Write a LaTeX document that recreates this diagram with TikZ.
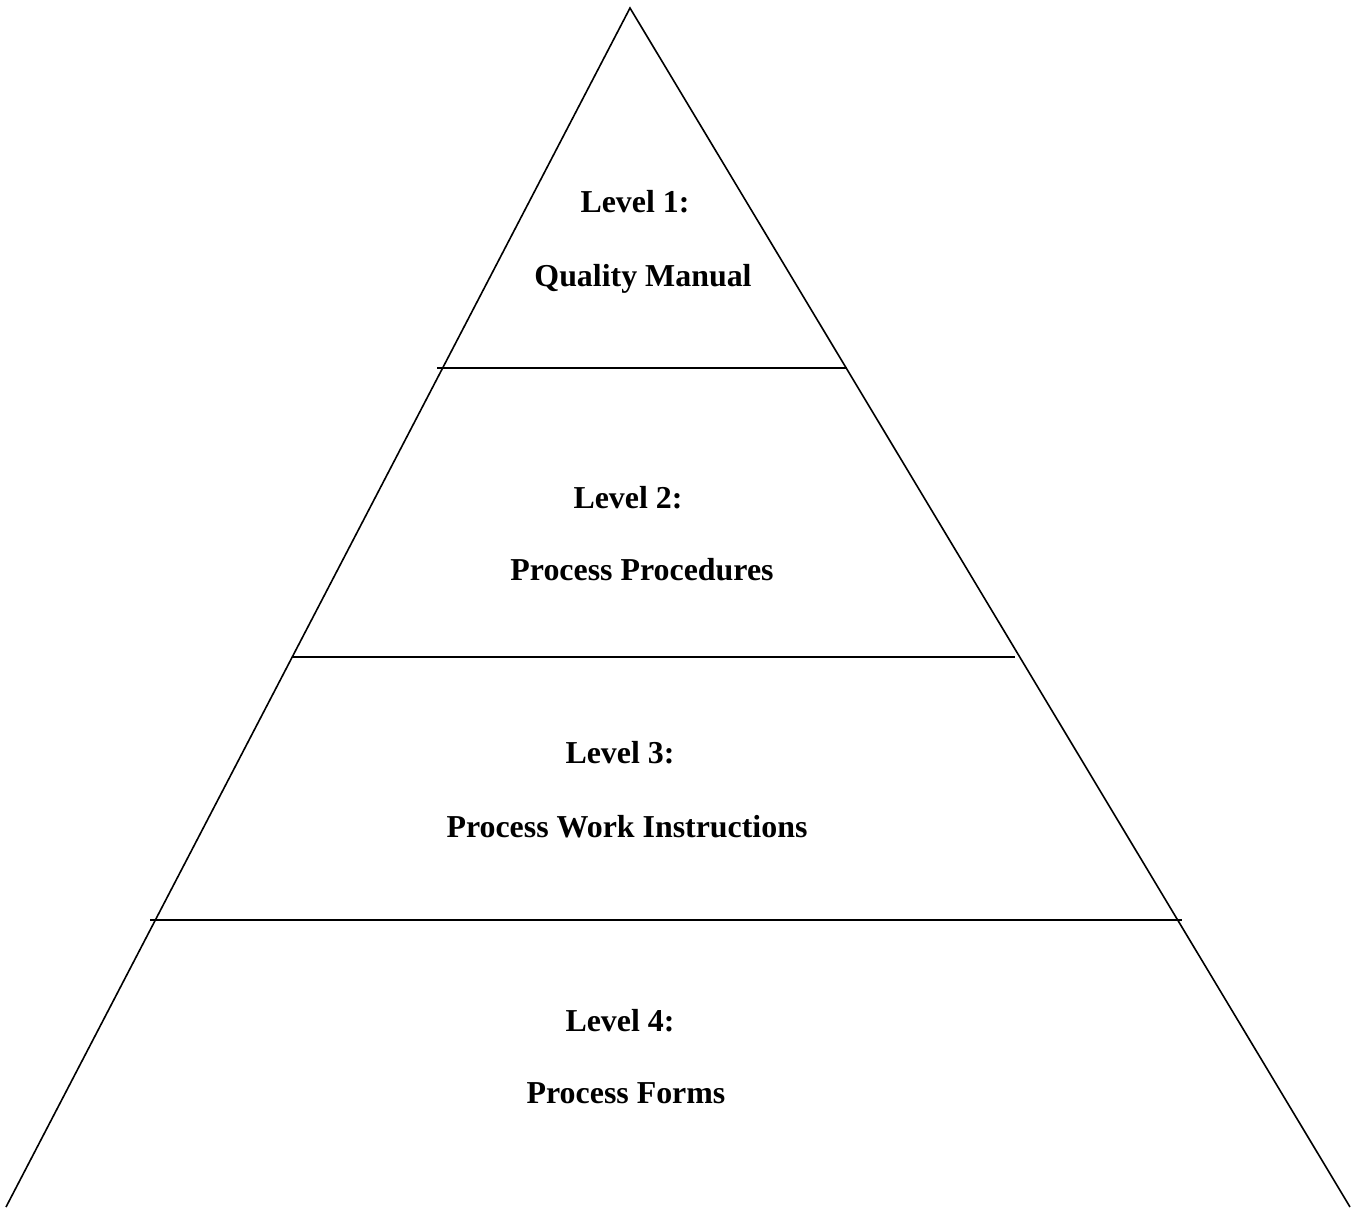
\documentclass[tikz,border=0pt]{standalone}
\usepackage{fontspec}
\setmainfont{Liberation Serif}
\begin{document}
\begin{tikzpicture}[x=1pt,y=-1pt,
  edge/.style={line width=1.6pt, black},
  lbl/.style={anchor=base, inner sep=0pt, font=\fontsize{31.9}{36}\selectfont\bfseries}]
\useasboundingbox (0,0) rectangle (1351,1207);
\coordinate (apex) at (630,8);
\coordinate (bl) at (6,1207);
\coordinate (br) at (1350,1207);
\draw[edge] (bl) -- (apex) -- (br);
\coordinate (a1) at (437,368); \coordinate (b1) at (847,368);
\coordinate (a2) at (293,657); \coordinate (b2) at (1015,657);
\coordinate (a3) at (150,920); \coordinate (b3) at (1182,920);
\draw[edge] (a1) -- (b1);
\draw[edge] (a2) -- (b2);
\draw[edge] (a3) -- (b3);
\node[lbl] (l1) at (635,212) {Level 1:};
\node[lbl] (t1) at (643,286) {Quality Manual};
\node[lbl] (l2) at (628,508) {Level 2:};
\node[lbl] (t2) at (642,580) {Process Procedures};
\node[lbl] (l3) at (620,763) {Level 3:};
\node[lbl] (t3) at (627,837) {Process Work Instructions};
\node[lbl] (l4) at (620,1031) {Level 4:};
\node[lbl] (t4) at (626,1103) {Process Forms};
\end{tikzpicture}
\end{document}
